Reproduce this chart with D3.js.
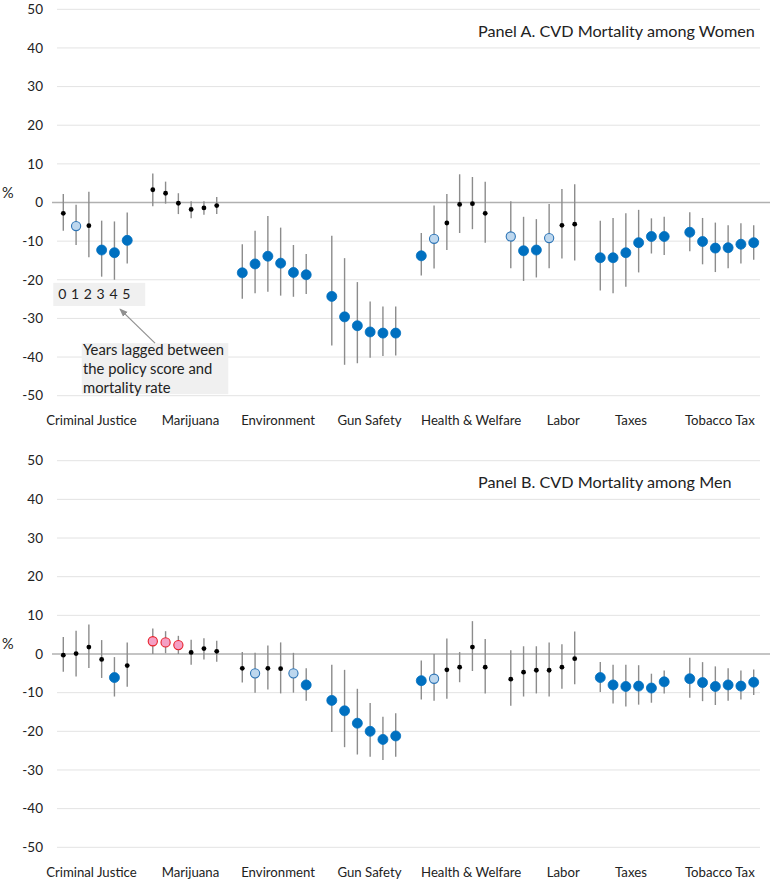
<!DOCTYPE html>
<html>
<head>
<meta charset="utf-8">
<script src="https://cdn.jsdelivr.net/npm/d3@7"></script>
<style>
  body { margin: 0; background: #fff; }
  text { font-family: Lato, "Open Sans", sans-serif; fill: #222; }
</style>
</head>
<body>
<svg id="chart"></svg>
<script>
// ---- data ----
const categories = ["Criminal Justice", "Marijuana", "Environment", "Gun Safety",
  "Health & Welfare", "Labor", "Taxes", "Tobacco Tax"];
const lagLabels = ["0", "1", "2", "3", "4", "5"];
const yTicks = [-50, -40, -30, -20, -10, 0, 10, 20, 30, 40, 50];

// marker type: b = significant (blue), l = marginal (light blue), k = not significant, p = positive (pink)
const womenEst = [
  -2.8, -6.1, -6.0, -12.3, -13.0, -9.8,
  3.3, 2.4, -0.2, -1.8, -1.4, -0.8,
  -18.2, -15.9, -13.9, -15.7, -18.1, -18.7,
  -24.3, -29.6, -31.9, -33.5, -33.8, -33.8,
  -13.8, -9.4, -5.3, -0.5, -0.3, -2.8,
  -8.8, -12.5, -12.3, -9.2, -5.9, -5.6,
  -14.3, -14.3, -13.0, -10.4, -8.8, -8.8,
  -7.7, -10.1, -11.8, -11.7, -10.8, -10.4
];
const womenLo = [
  -7.3, -11.0, -14.2, -19.2, -20.0, -15.8,
  -1.0, -0.3, -3.0, -4.1, -3.2, -3.0,
  -24.9, -23.5, -23.1, -24.1, -24.4, -23.7,
  -37.0, -42.0, -41.6, -40.2, -39.7, -39.6,
  -18.9, -17.1, -12.3, -7.9, -6.9, -10.4,
  -17.0, -20.3, -19.4, -17.0, -14.5, -15.0,
  -22.8, -23.5, -21.8, -18.1, -13.2, -13.6,
  -12.6, -16.0, -18.0, -17.0, -15.8, -14.8
];
const womenHi = [
  2.2, -0.6, 2.8, -4.7, -4.9, -2.6,
  7.5, 5.4, 2.4, 0.3, 0.3, 1.4,
  -10.8, -7.3, -3.5, -6.5, -11.0, -13.3,
  -8.6, -14.4, -20.6, -25.6, -26.9, -26.9,
  -7.9, -0.8, 2.2, 7.3, 6.6, 5.4,
  0.3, -3.7, -4.3, -0.4, 3.5, 4.7,
  -4.7, -4.0, -2.8, -1.9, -4.1, -3.7,
  -2.5, -4.0, -5.2, -5.9, -5.4, -5.9
];
const womenType = [
  "k", "l", "k", "b", "b", "b",
  "k", "k", "k", "k", "k", "k",
  "b", "b", "b", "b", "b", "b",
  "b", "b", "b", "b", "b", "b",
  "b", "l", "k", "k", "k", "k",
  "l", "b", "b", "l", "k", "k",
  "b", "b", "b", "b", "b", "b",
  "b", "b", "b", "b", "b", "b"
];

const menEst = [
  -0.3, 0.1, 1.8, -1.4, -6.1, -3.0,
  3.3, 3.0, 2.3, 0.4, 1.4, 0.7,
  -3.7, -5.0, -3.7, -3.8, -5.0, -8.0,
  -12.0, -14.7, -17.9, -20.0, -22.1, -21.2,
  -6.9, -6.4, -4.1, -3.4, 1.8, -3.4,
  -6.5, -4.7, -4.2, -4.2, -3.4, -1.2,
  -6.1, -8.0, -8.4, -8.3, -8.8, -7.2,
  -6.4, -7.4, -8.4, -8.0, -8.3, -7.3
];
const menLo = [
  -4.6, -5.8, -3.6, -6.2, -11.0, -8.5,
  0.0, 0.2, 0.0, -2.8, -1.4, -2.0,
  -7.4, -10.0, -9.2, -10.2, -10.0, -12.1,
  -20.2, -24.1, -26.0, -26.6, -27.4, -26.6,
  -11.8, -12.1, -11.6, -7.3, -4.4, -10.2,
  -13.4, -11.0, -10.2, -11.0, -9.0, -7.8,
  -9.8, -12.8, -13.6, -13.1, -12.6, -10.2,
  -11.3, -12.2, -13.2, -12.1, -11.8, -10.6
];
const menHi = [
  4.4, 6.0, 7.6, 3.6, -0.8, 3.0,
  6.6, 5.9, 4.7, 3.7, 4.1, 3.4,
  0.5, 0.3, 2.2, 3.0, 0.3, -3.7,
  -2.8, -4.1, -9.0, -12.7, -16.2, -15.3,
  -1.7, 0.0, 4.0, 0.5, 8.5, 3.9,
  1.0, 2.0, 2.0, 3.0, 2.5, 5.8,
  -2.1, -2.8, -2.8, -2.9, -5.1, -4.3,
  -1.0, -2.1, -3.2, -3.7, -4.3, -4.0
];
const menType = [
  "k", "k", "k", "k", "b", "k",
  "p", "p", "p", "k", "k", "k",
  "k", "l", "k", "k", "l", "b",
  "b", "b", "b", "b", "b", "b",
  "b", "l", "k", "k", "k", "k",
  "k", "k", "k", "k", "k", "k",
  "b", "b", "b", "b", "b", "b",
  "b", "b", "b", "b", "b", "b"
];

const panels = [
  { title: "Panel A. CVD Mortality among Women", est: womenEst, lo: womenLo, hi: womenHi, type: womenType, top: 9.3, bottom: 395.7, note: true },
  { title: "Panel B. CVD Mortality among Men", est: menEst, lo: menLo, hi: menHi, type: menType, top: 460.7, bottom: 847.3, note: false }
];

// ---- layout ----
const width = 771, height = 881;
const gridLeft = 57, gridRight = 760;
const nLags = lagLabels.length;
// category label centres, in slot units (labels sit a little off the point groups)
const labelSlot = [2.2, 9.95, 16.8, 23.95, 31.9, 39.1, 44.4, 51.35];

const markerStyle = {
  b: { r: 5, fill: "#0070C0", stroke: "#0070C0", sw: 0.8 },
  l: { r: 4.6, fill: "#BDD7EE", stroke: "#2E75B6", sw: 1.1 },
  k: { r: 2.4, fill: "#000", stroke: "#000", sw: 0 },
  p: { r: 4.6, fill: "#F4A0C4", stroke: "#E8202A", sw: 1.1 }
};

const svg = d3.select("#chart").attr("width", width).attr("height", height);

// one slot per lag, plus one empty slot between categories
const x = d3.scaleLinear().domain([0, 54]).range([63.3, 753.7]);
const slotOf = (i) => Math.floor(i / nLags) * (nLags + 1) + (i % nLags);

panels.forEach((p) => {
  const y = d3.scaleLinear().domain([-50, 50]).range([p.bottom, p.top]);
  const g = svg.append("g");

  // gridlines
  g.append("g")
    .selectAll("line")
    .data(yTicks.filter((t) => t !== 0))
    .join("line")
    .attr("x1", gridLeft).attr("x2", gridRight)
    .attr("y1", (d) => y(d)).attr("y2", (d) => y(d))
    .attr("stroke", "#e3e3e3").attr("stroke-width", 1);

  // zero line
  g.append("line")
    .attr("x1", 52).attr("x2", 770)
    .attr("y1", y(0)).attr("y2", y(0))
    .attr("stroke", "#b0b0b0").attr("stroke-width", 1.5);

  // y tick labels
  g.append("g")
    .selectAll("text")
    .data(yTicks)
    .join("text")
    .attr("x", 43)
    .attr("y", (d) => y(d))
    .attr("dy", "0.35em")
    .attr("text-anchor", "end")
    .attr("font-size", 13.5)
    .text((d) => d);

  g.append("text")
    .attr("x", 2).attr("y", y(2.6)).attr("dy", "0.35em")
    .attr("font-size", 14.5).text("%");

  // title
  g.append("text")
    .attr("x", 478).attr("y", p.top + 22).attr("dy", "0.35em")
    .attr("font-size", 16.2).text(p.title);

  // category labels
  g.append("g")
    .selectAll("text")
    .data(categories)
    .join("text")
    .attr("x", (d, i) => x(labelSlot[i]))
    .attr("y", p.bottom + 25)
    .attr("dy", "0.35em")
    .attr("text-anchor", "middle")
    .attr("font-size", 13.2)
    .text((d) => d);

  const pts = p.est.map((v, i) => ({ v, lo: p.lo[i], hi: p.hi[i], t: p.type[i], s: slotOf(i) }));

  // error bars
  g.append("g")
    .selectAll("line")
    .data(pts)
    .join("line")
    .attr("x1", (d) => x(d.s)).attr("x2", (d) => x(d.s))
    .attr("y1", (d) => y(d.lo)).attr("y2", (d) => y(d.hi))
    .attr("stroke", "#8c8c8c").attr("stroke-width", 1.4);

  // estimates
  g.append("g")
    .selectAll("circle")
    .data(pts)
    .join("circle")
    .attr("cx", (d) => x(d.s)).attr("cy", (d) => y(d.v))
    .attr("r", (d) => markerStyle[d.t].r)
    .attr("fill", (d) => markerStyle[d.t].fill)
    .attr("stroke", (d) => markerStyle[d.t].stroke)
    .attr("stroke-width", (d) => markerStyle[d.t].sw);

  if (p.note) {
    // lag legend box
    const nb = g.append("g");
    nb.append("rect")
      .attr("x", x(0) - 10).attr("y", y(-20.8))
      .attr("width", x(5) - x(0) + 28).attr("height", y(-26.8) - y(-20.8))
      .attr("fill", "#f0f0f0");
    nb.selectAll("text")
      .data(lagLabels)
      .join("text")
      .attr("x", (d, i) => x(i) - 1)
      .attr("y", y(-23.8)).attr("dy", "0.35em")
      .attr("text-anchor", "middle")
      .attr("font-size", 14)
      .text((d) => d);

    const tb = g.append("g");
    tb.append("rect")
      .attr("x", 81.7).attr("y", y(-36.4))
      .attr("width", 146.6).attr("height", y(-49.6) - y(-36.4))
      .attr("fill", "#f0f0f0");
    tb.selectAll("text")
      .data(["Years lagged between", "the policy score and", "mortality rate"])
      .join("text")
      .attr("x", 83)
      .attr("y", (d, i) => y(-38.1) + i * 19.2)
      .attr("dy", "0.35em")
      .attr("font-size", 14.8)
      .text((d) => d);

    svg.append("defs").append("marker")
      .attr("id", "ah").attr("viewBox", "0 0 10 10")
      .attr("refX", 9).attr("refY", 5)
      .attr("markerWidth", 7).attr("markerHeight", 7)
      .attr("orient", "auto")
      .append("path").attr("d", "M0,1 L10,5 L0,9 Z").attr("fill", "#909090");
    g.append("line")
      .attr("x1", 155).attr("y1", y(-36.4))
      .attr("x2", 120).attr("y2", y(-27.6))
      .attr("stroke", "#909090").attr("stroke-width", 1.2)
      .attr("marker-end", "url(#ah)");
  }
});
</script>
</body>
</html>
